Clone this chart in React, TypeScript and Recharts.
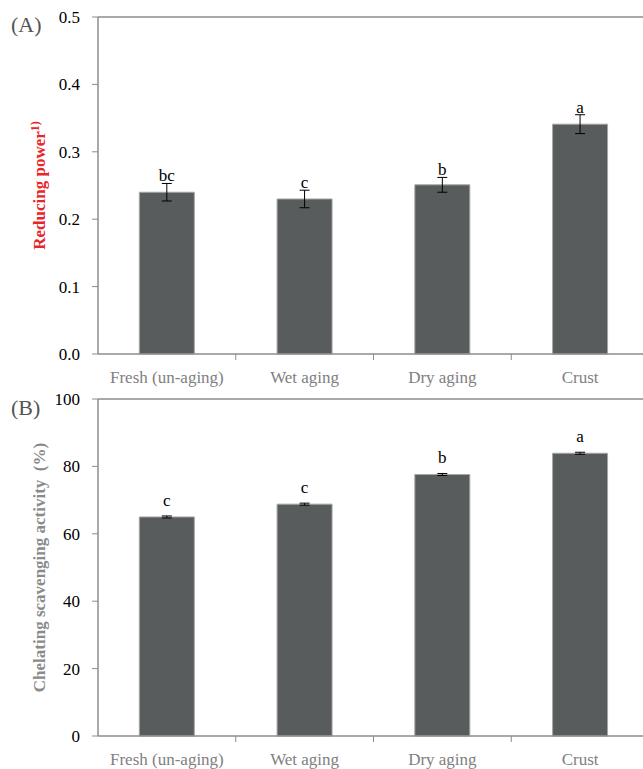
import React from "react";
import { BarChart, Bar, XAxis, YAxis, ErrorBar, LabelList, ReferenceLine } from "recharts";

const categories = ["Fresh (un-aging)", "Wet aging", "Dry aging", "Crust"];

const reducingPower = [0.24, 0.23, 0.251, 0.341];
const reducingErr = [0.013, 0.013, 0.011, 0.014];
const reducingLetters = ["bc", "c", "b", "a"];
const reducingTicks = [0, 0.1, 0.2, 0.3, 0.4, 0.5];

const chelating = [65.0, 68.8, 77.6, 83.9];
const chelatingErr = [0.3, 0.3, 0.3, 0.3];
const chelatingLetters = ["c", "c", "b", "a"];
const chelatingTicks = [0, 20, 40, 60, 80, 100];

const dataA = categories.map((name, i) => ({
  name, value: reducingPower[i], err: reducingErr[i], letter: reducingLetters[i],
}));
const dataB = categories.map((name, i) => ({
  name, value: chelating[i], err: chelatingErr[i], letter: chelatingLetters[i],
}));

const FONT = "'Liberation Serif', 'DejaVu Serif', serif";
const AXIS = "#8c8c8c";
const BAR = "#595c5c";

const CatTick = (props: any) => {
  const { x, y, payload } = props;
  const off = payload.offset ?? 0;
  return (
    <g>
      <line x1={x + off} x2={x + off} y1={y} y2={y + 6} stroke={AXIS} strokeWidth={1} />
      <text x={x} y={y + 29} textAnchor="middle" fill="#808080" fontSize={17} fontFamily={FONT}>
        {payload.value}
      </text>
    </g>
  );
};

const makeYTick = (fmt: (v: number) => string) => (props: any) => {
  const { x, y, payload } = props;
  return (
    <text x={x} y={y} dy="0.35em" textAnchor="end" fill="#000" fontSize={17} fontFamily={FONT}>
      {fmt(payload.value)}
    </text>
  );
};

const letterContent = (data: any[], gap: number) => (props: any) => {
  const { x, y, width, height, index } = props;
  const d = data[index];
  const errPx = (height * d.err) / d.value;
  return (
    <text x={x + width / 2} y={y - errPx - gap} textAnchor="middle" fill="#000" fontSize={17} fontFamily={FONT}>
      {d.letter}
    </text>
  );
};

const labelA = (props: any) => {
  const { viewBox } = props;
  const cx = 45;
  const cy = viewBox.y + viewBox.height / 2;
  return (
    <text x={cx} y={cy} transform={`rotate(-90 ${cx} ${cy})`} textAnchor="middle" fill="#e8262a" fontWeight="bold" fontSize={17} fontFamily={FONT}>
      Reducing power<tspan dy={-6} fontSize={12}>1)</tspan>
    </text>
  );
};

const labelB = (props: any) => {
  const { viewBox } = props;
  const cx = 45;
  const cy = viewBox.y + viewBox.height / 2;
  return (
    <text x={cx} y={cy} transform={`rotate(-90 ${cx} ${cy})`} textAnchor="middle" fill="#8a8a8a" fontWeight="bold" fontSize={17} fontFamily={FONT}>
      {"Chelating scavenging activity\u00a0\u00a0(%)"}
    </text>
  );
};

export default function App() {
  return (
    <div style={{ position: "absolute", left: 0, top: 0, width: 643, height: 769, overflow: "hidden", background: "#fff", fontFamily: FONT }}>
      <div style={{ position: "absolute", left: 11, top: 14, fontSize: 22, lineHeight: 1, color: "#555" }}>(A)</div>
      <div style={{ position: "absolute", left: 11, top: 397, fontSize: 22, lineHeight: 1, color: "#555" }}>(B)</div>

      <div style={{ position: "absolute", left: 0, top: 0 }}>
        <BarChart width={650} height={395} data={dataA} margin={{ top: 17, right: 1, bottom: 0, left: 0 }} barCategoryGap="30%" style={{ fontFamily: FONT }}>
          <XAxis dataKey="name" height={41} tick={<CatTick />} tickLine={false} tickSize={0} tickMargin={0} axisLine={{ stroke: AXIS, strokeWidth: 1.5 }} interval={0} />
          <YAxis width={98} domain={[0, 0.5]} ticks={reducingTicks} tick={makeYTick((v) => v.toFixed(1))} tickSize={6} tickMargin={12} tickLine={{ stroke: AXIS }} axisLine={{ stroke: AXIS, strokeWidth: 1.5 }} label={{ content: labelA }} />
          <ReferenceLine y={0.5} stroke={AXIS} strokeWidth={1.5} />
          <Bar dataKey="value" fill={BAR} stroke="#a6a6a6" strokeWidth={1} isAnimationActive={false}>
            <ErrorBar dataKey="err" width={5} stroke="#000" strokeWidth={1} direction="y" />
            <LabelList dataKey="letter" content={letterContent(dataA, 2)} />
          </Bar>
        </BarChart>
      </div>

      <div style={{ position: "absolute", left: 0, top: 385 }}>
        <BarChart width={650} height={384} data={dataB} margin={{ top: 14, right: 1, bottom: 0, left: 0 }} barCategoryGap="30%" style={{ fontFamily: FONT }}>
          <XAxis dataKey="name" height={33} tick={<CatTick />} tickLine={false} tickSize={0} tickMargin={0} axisLine={{ stroke: AXIS, strokeWidth: 1.5 }} interval={0} />
          <YAxis width={98} domain={[0, 100]} ticks={chelatingTicks} tick={makeYTick((v) => String(v))} tickSize={6} tickMargin={12} tickLine={{ stroke: AXIS }} axisLine={{ stroke: AXIS, strokeWidth: 1.5 }} label={{ content: labelB }} />
          <ReferenceLine y={100} stroke={AXIS} strokeWidth={1.5} />
          <Bar dataKey="value" fill={BAR} stroke="#a6a6a6" strokeWidth={1} isAnimationActive={false}>
            <ErrorBar dataKey="err" width={5} stroke="#000" strokeWidth={1} direction="y" />
            <LabelList dataKey="letter" content={letterContent(dataB, 10)} />
          </Bar>
        </BarChart>
      </div>
    </div>
  );
}
